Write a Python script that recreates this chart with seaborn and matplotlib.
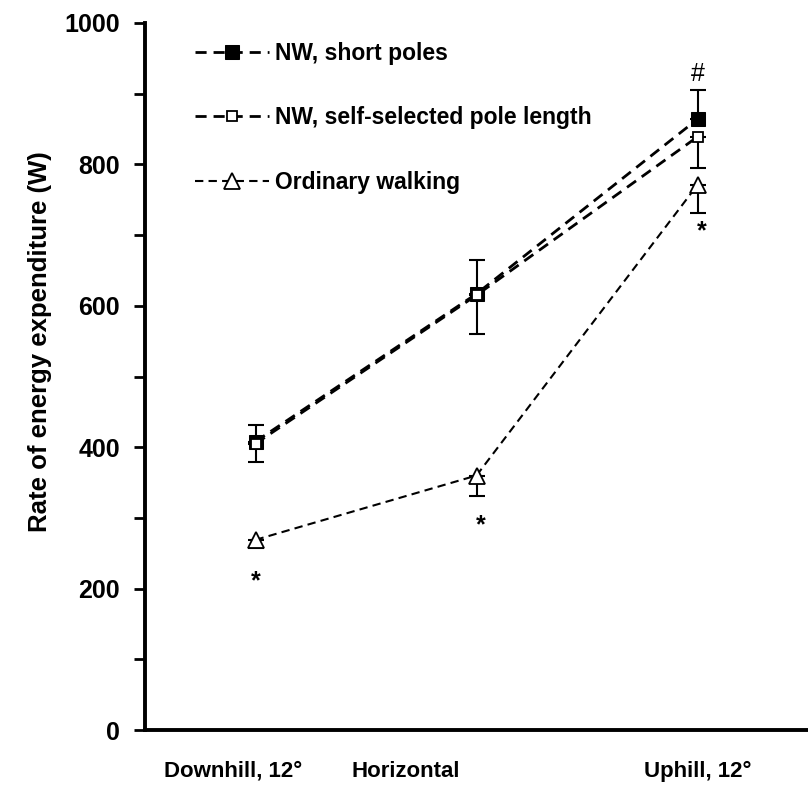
import numpy as np
import pandas as pd
import matplotlib
matplotlib.use("Agg")
import matplotlib.pyplot as plt
import seaborn as sns
from matplotlib.ticker import MultipleLocator

# --- Data ---
conditions = ["Downhill, 12°", "Horizontal", "Uphill, 12°"]
x_pos = [0, 1, 2]

nw_short = [408, 617, 864]
nw_short_err_up = [23, 48, 41]

nw_self = [405, 615, 839]
nw_self_err_down = [26, 55, 44]

ordinary = [269, 360, 771]
ordinary_err_down = [12, 29, 40]

series_labels = ["NW, short poles", "NW, self-selected pole length", "Ordinary walking"]

# significance marks: (x, y, text)
marks_x = [0, 1.02, 2.02, 2.0]
marks_y = [210, 290, 705, 928]
marks_txt = ["*", "*", "*", "#"]

# x label positions as laid out in the original figure
xlabel_pos = [-0.1, 0.68, 2.0]

# --- Style ---
sns.set_style("ticks")
plt.rcParams["font.family"] = ["Liberation Sans", "DejaVu Sans"]
plt.rcParams["font.weight"] = "bold"
plt.rcParams["text.color"] = "black"
plt.rcParams["axes.labelcolor"] = "black"
plt.rcParams["xtick.color"] = "black"
plt.rcParams["ytick.color"] = "black"
plt.rcParams["axes.edgecolor"] = "black"

fig = plt.figure(figsize=(8.08, 7.93), dpi=100)
ax = fig.add_axes([0.1795, 0.0794, 0.8205, 0.8916])

# short poles first, self-selected drawn on top (white fill)
ax.errorbar(x_pos, nw_short, yerr=[[0, 0, 0], nw_short_err_up], fmt="none",
            ecolor="black", elinewidth=1.5, capsize=6, capthick=1.5, zorder=2)
ax.errorbar(x_pos, nw_self, yerr=[nw_self_err_down, [0, 0, 0]], fmt="none",
            ecolor="black", elinewidth=1.5, capsize=6, capthick=1.5, zorder=2)
ax.errorbar(x_pos, ordinary, yerr=[ordinary_err_down, [0, 0, 0]], fmt="none",
            ecolor="black", elinewidth=1.5, capsize=6, capthick=1.5, zorder=2)

dash = (4, 2.5)
sns.lineplot(x=x_pos, y=nw_short, ax=ax, color="black", marker="s", markersize=10,
             markerfacecolor="black", markeredgecolor="black", linewidth=2,
             dashes=False, label=series_labels[0], zorder=3)
sns.lineplot(x=x_pos, y=nw_self, ax=ax, color="black", marker="s", markersize=7,
             markerfacecolor="white", markeredgecolor="black", markeredgewidth=1.3,
             linewidth=2, dashes=False, label=series_labels[1], zorder=4)
sns.lineplot(x=x_pos, y=ordinary, ax=ax, color="black", marker="^", markersize=11,
             markerfacecolor="white", markeredgecolor="black", markeredgewidth=1.3,
             linewidth=1.5, dashes=False, label=series_labels[2], zorder=4)
for ln in ax.get_lines()[-3:]:
    ln.set_dashes(dash)

for mx, my, mt in zip(marks_x, marks_y, marks_txt):
    ax.text(mx, my, mt, ha="center", va="center",
            fontsize=18, fontweight="bold" if mt == "*" else "normal")

ax.set_xlim(-0.5, 2.5)
ax.set_ylim(0, 1000)
ax.yaxis.set_major_locator(MultipleLocator(200))
ax.yaxis.set_minor_locator(MultipleLocator(100))
ax.tick_params(axis="y", which="both", direction="out", length=8, width=2,
               labelsize=18, pad=10)
ax.set_xticks(xlabel_pos)
ax.set_xticklabels(conditions, fontsize=16, fontweight="bold")
ax.tick_params(axis="x", length=0, pad=22)
for lab in ax.get_yticklabels():
    lab.set_fontweight("bold")

sns.despine(ax=ax)
ax.spines["left"].set_linewidth(2.8)
ax.spines["bottom"].set_linewidth(2.8)

ax.set_xlabel("")
ax.set_ylabel("Rate of energy expenditure (W)", fontsize=18.5, fontweight="bold",
              labelpad=12)
ax.yaxis.set_label_coords(-0.14, 0.55)

leg = ax.legend(loc="upper left", bbox_to_anchor=(0.045, 1.002), frameon=False,
                handlelength=3.2, handletextpad=0.25, labelspacing=1.8,
                prop={"size": 16.5, "weight": "bold"})

fig.savefig("out.png", dpi=100)
